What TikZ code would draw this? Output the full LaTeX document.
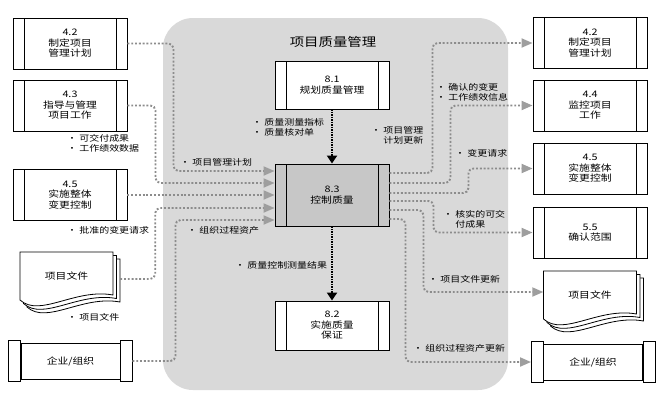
\documentclass[tikz,border=0pt]{standalone}
\usepackage{fontspec}
\setmainfont{Noto Sans CJK SC}[FakeStretch=1.2]
\usetikzlibrary{arrows.meta, positioning, calc}

\tikzset{
  proc/.style={draw, fill=white, line width=0.9pt, minimum width=114pt, minimum height=51pt,
    align=center, inner sep=0pt, font=\fontsize{9}{10.5}\selectfont,
    path picture={\draw[line width=0.9pt]
      ([xshift=11pt]path picture bounding box.north west) -- ([xshift=11pt]path picture bounding box.south west)
      ([xshift=-11pt]path picture bounding box.north east) -- ([xshift=-11pt]path picture bounding box.south east);}},
  ent/.style={draw, fill=white, line width=0.9pt, minimum width=99pt, minimum height=36pt,
    inner sep=0pt, font=\fontsize{9}{10.5}\selectfont},
  docu/.style={minimum width=93pt, minimum height=48pt, inner sep=0pt, font=\fontsize{9}{10.5}\selectfont},
  flow/.style={black!45, line width=1.9pt, dash pattern=on 1.9pt off 1.9pt, rounded corners=5pt,
    -{Triangle[length=11pt,width=9pt,color=black!38]}},
  ctrl/.style={black, line width=2.2pt, dash pattern=on 1.5pt off 1pt, -{Triangle[length=8pt,width=10pt]}},
  lbl/.style={anchor=west, align=left, inner sep=0pt, font=\fontsize{8.3}{10}\selectfont}
}

\begin{document}
\begin{tikzpicture}[x=1pt, y=-1pt]
\useasboundingbox (0,0) rectangle (660,405);

% process group
\fill[black!15, rounded corners=30pt] (163,18) rectangle (508,390);
\node[font=\fontsize{12}{14}\selectfont] (title) at (333,42) {项目质量管理};

% document pages
\foreach \cx/\cy in {66.5/276, 590/295} {
  \foreach \o in {7,3.5,0} {
    \draw[fill=white, line width=0.8pt] (\cx-46.5+\o,\cy-24+\o) -- (\cx+46.5+\o,\cy-24+\o) -- (\cx+46.5+\o,\cy+19+\o)
      .. controls (\cx+8.5+\o,\cy+12+\o) and (\cx-26.5+\o,\cy+42+\o) .. (\cx-46.5+\o,\cy+24+\o) -- cycle;
  }
}

% inputs
\node[proc] (l42) at (70,43.5) {4.2\\制定项目\\管理计划};
\node[proc] (l43) at (70,105.5) {4.3\\指导与管理\\项目工作};
\node[proc] (l45) at (70,195) {4.5\\实施整体\\变更控制};
\node[docu] (ldoc) at (66.5,276) {项目文件};
\node[ent] (lent) at (70.5,361) {企业/组织};

% processes
\node[proc, minimum height=48pt] (q81) at (332,85) {8.1\\规划质量管理};
\node[proc, fill=black!22, minimum height=62pt] (q83) at (332,195) {8.3\\控制质量};
\node[proc, minimum height=49pt] (q82) at (332,325.5) {8.2\\实施质量\\保证};

% outputs
\node[proc] (r42) at (590,43) {4.2\\制定项目\\管理计划};
\node[proc] (r44) at (590,105.5) {4.4\\监控项目\\工作};
\node[proc] (r45) at (590,168.5) {4.5\\实施整体\\变更控制};
\node[proc] (r55) at (590,232.5) {5.5\\确认范围};
\node[docu] (rdoc) at (590,295) {项目文件};
\node[ent] (rent) at (593,362) {企业/组织};

% end caps
\foreach \e in {lent, rent} {
  \draw[fill=white, line width=0.9pt] ([xshift=-12pt,yshift=2pt]\e.north west) rectangle ([yshift=-2pt]\e.south west);
  \draw[fill=white, line width=0.9pt] ([yshift=2pt]\e.north east) rectangle ([xshift=12pt,yshift=-2pt]\e.south east);
}

% flows in
\draw[flow] (l42.east) -- ++(46,0) |- ([yshift=24pt]q83.west);
\draw[flow] (l43.east) -- ++(28,0) |- ([yshift=12pt]q83.west);
\draw[flow] (l45.east) -- (q83.west);
\draw[flow] ([xshift=7pt,yshift=-3pt]ldoc.east) -- ++(35,0) |- ([yshift=-13pt]q83.west);
\draw[flow] ([xshift=12pt]lent.east) -- ++(43,0) |- ([yshift=-25pt]q83.west);

% flows out
\draw[flow] ([yshift=22pt]q83.east) -- ++(43,0) |- (r42.west);
\draw[flow] ([yshift=12pt]q83.east) -- ++(61,0) |- (r44.west);
\draw[flow] ([yshift=2pt]q83.east) -- ++(79,0) |- (r45.west);
\draw[flow] ([yshift=-6pt]q83.east) -- ++(44,0) |- (r55.west);
\draw[flow] ([yshift=-15pt]q83.east) -- ++(34,0) |- ([yshift=3pt]rdoc.west);
\draw[flow] ([yshift=-24pt]q83.east) -- ++(16,0) |- ([xshift=-12pt]rent.west);

% between processes
\draw[ctrl] (q81.south) -- (q83.north);
\draw[ctrl] (q83.south) -- (q82.north);

% labels
\node[lbl] (t1) at (67,143) {· 可交付成果\\· 工作绩效数据};
\node[lbl] (t2) at (67,230) {· 批准的变更请求};
\node[lbl] (t3) at (67,317) {· 项目文件};
\node[lbl] (t4) at (180,162) {· 项目管理计划};
\node[lbl] (t5) at (187,230) {· 组织过程资产};
\node[lbl] (t6) at (252,127) {· 质量测量指标\\· 质量核对单};
\node[lbl] (t7) at (371,135) {· 项目管理\\\phantom{· }计划更新};
\node[lbl] (t8) at (436,92) {· 确认的变更\\· 工作绩效信息};
\node[lbl] (t9) at (455,153) {· 变更请求};
\node[lbl] (t10) at (443,219) {· 核实的可交\\\phantom{· }付成果};
\node[lbl] (t11) at (428,279) {· 项目文件更新};
\node[lbl] (t12) at (413,348) {· 组织过程资产更新};
\node[lbl] (t13) at (235,265) {· 质量控制测量结果};
\end{tikzpicture}
\end{document}
